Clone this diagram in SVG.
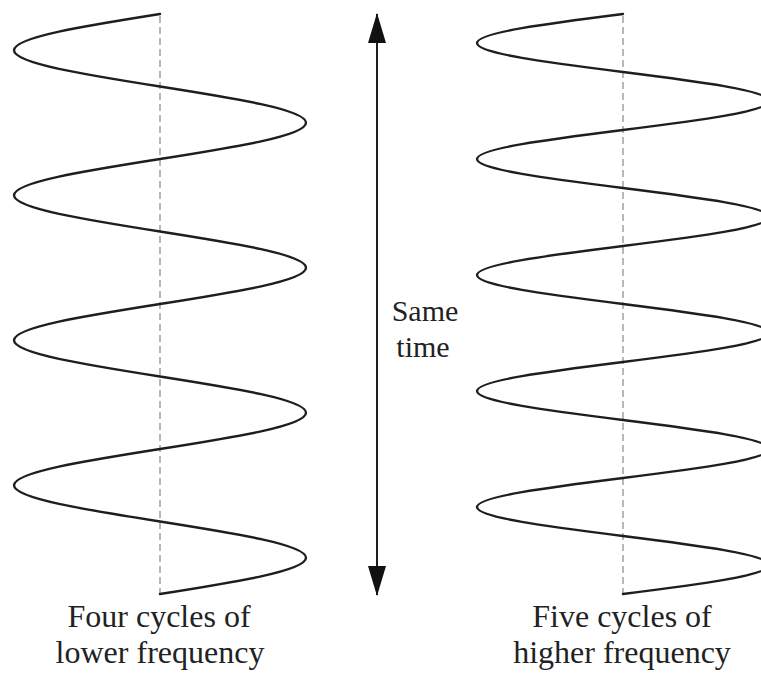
<svg xmlns="http://www.w3.org/2000/svg" width="761" height="673" viewBox="0 0 761 673">
<style>
.wave{fill:none;stroke:#1e1e1e;stroke-width:2.4;stroke-linejoin:round;stroke-linecap:round}
.axis{stroke:#9a9a9a;stroke-width:1.4;stroke-dasharray:7 4;fill:none}
.arrow{stroke:#1e1e1e;stroke-width:2;fill:none}
.lbl{font-family:"Liberation Serif","Times New Roman",serif;font-size:32px;fill:#222;text-anchor:middle}
.mid{font-family:"Liberation Serif","Times New Roman",serif;font-size:30px;fill:#222;text-anchor:middle}
</style>
<defs>
<marker id="ah" viewBox="0 0 30 18" refX="29" refY="9" markerWidth="30" markerHeight="18" markerUnits="userSpaceOnUse" orient="auto-start-reverse">
<path d="M0,0 L30,9 L0,18 Z" fill="#111"/>
</marker>
</defs>
<rect width="761" height="673" fill="#fff"/>
<g id="left-wave">
<line class="axis" x1="160" y1="16" x2="160" y2="594"/>
<path class="wave" d="M160,14
c -74.79,11.822 -146,23.131 -146,36.25 c 0,13.119 71.21,24.428 146,36.25 c 74.79,11.822 146,23.131 146,36.25 c 0,13.119 -71.21,24.428 -146,36.25
c -74.79,11.822 -146,23.131 -146,36.25 c 0,13.119 71.21,24.428 146,36.25 c 74.79,11.822 146,23.131 146,36.25 c 0,13.119 -71.21,24.428 -146,36.25
c -74.79,11.822 -146,23.131 -146,36.25 c 0,13.119 71.21,24.428 146,36.25 c 74.79,11.822 146,23.131 146,36.25 c 0,13.119 -71.21,24.428 -146,36.25
c -74.79,11.822 -146,23.131 -146,36.25 c 0,13.119 71.21,24.428 146,36.25 c 74.79,11.822 146,23.131 146,36.25 c 0,13.119 -71.21,24.428 -146,36.25"/>
<text class="lbl" x="159" y="627">Four cycles of</text>
<text class="lbl" x="160" y="663">lower frequency</text>
</g>
<g id="right-wave">
<line class="axis" x1="623" y1="16" x2="623" y2="594"/>
<path class="wave" d="M623,14
c -74.79,9.458 -146,18.505 -146,29 c 0,10.495 71.21,19.542 146,29 c 74.79,9.458 146,18.505 146,29 c 0,10.495 -71.21,19.542 -146,29
c -74.79,9.458 -146,18.505 -146,29 c 0,10.495 71.21,19.542 146,29 c 74.79,9.458 146,18.505 146,29 c 0,10.495 -71.21,19.542 -146,29
c -74.79,9.458 -146,18.505 -146,29 c 0,10.495 71.21,19.542 146,29 c 74.79,9.458 146,18.505 146,29 c 0,10.495 -71.21,19.542 -146,29
c -74.79,9.458 -146,18.505 -146,29 c 0,10.495 71.21,19.542 146,29 c 74.79,9.458 146,18.505 146,29 c 0,10.495 -71.21,19.542 -146,29
c -74.79,9.458 -146,18.505 -146,29 c 0,10.495 71.21,19.542 146,29 c 74.79,9.458 146,18.505 146,29 c 0,10.495 -71.21,19.542 -146,29"/>
<text class="lbl" x="622" y="627">Five cycles of</text>
<text class="lbl" x="622" y="663">higher frequency</text>
</g>
<g id="connectors">
<line class="arrow" x1="377" y1="40" x2="377" y2="570"/>
<line class="arrow" x1="377" y1="42" x2="377" y2="14" marker-end="url(#ah)"/>
<line class="arrow" x1="377" y1="566" x2="377" y2="595" marker-end="url(#ah)"/>
</g>
<g id="same-time">
<text class="mid" x="425" y="321">Same</text>
<text class="mid" x="423" y="357">time</text>
</g>
</svg>
